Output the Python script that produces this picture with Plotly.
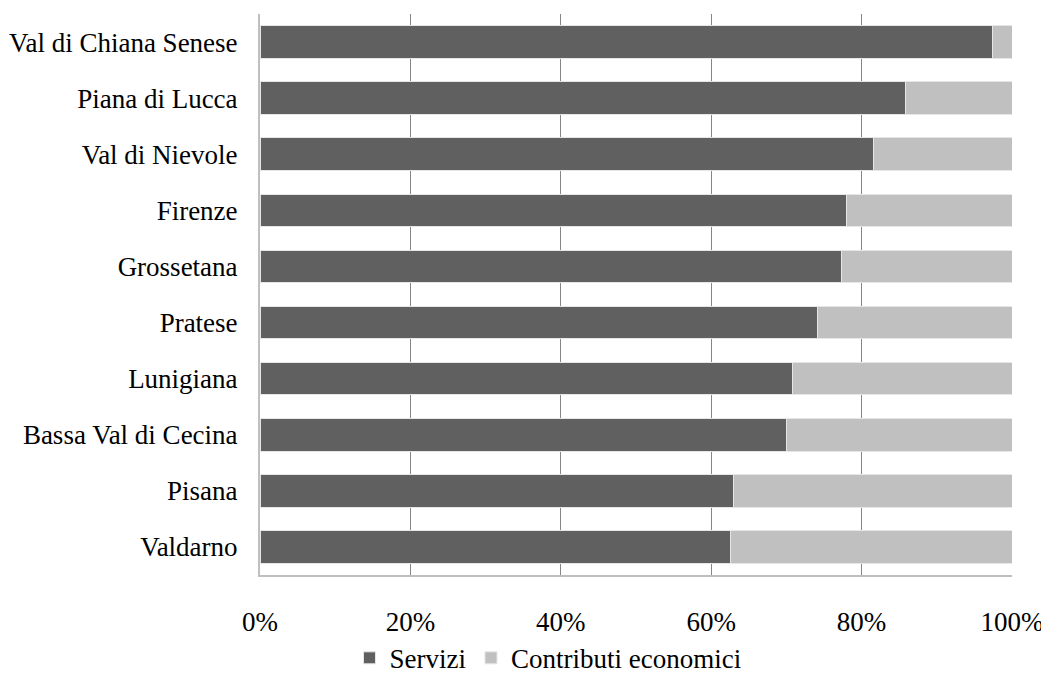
import plotly.graph_objects as go

categories = ["Val di Chiana Senese", "Piana di Lucca", "Val di Nievole", "Firenze",
              "Grossetana", "Pratese", "Lunigiana", "Bassa Val di Cecina", "Pisana", "Valdarno"]
servizi = [97.4, 85.9, 81.6, 78.0, 77.3, 74.2, 70.8, 70.0, 63.0, 62.5]
contributi = [2.6, 14.1, 18.4, 22.0, 22.7, 25.8, 29.2, 30.0, 37.0, 37.5]
x_ticks = [0, 20, 40, 60, 80, 100]

FONT = "Liberation Serif"

fig = go.Figure()
fig.add_trace(go.Bar(y=categories, x=servizi, orientation="h", name="Servizi",
                     marker=dict(color="#606060", line=dict(color="#E6E6E6", width=1))))
fig.add_trace(go.Bar(y=categories, x=contributi, orientation="h", name="Contributi economici",
                     marker=dict(color="#C0C0C0", line=dict(color="#E6E6E6", width=1))))

# The page has an 8px body margin, so the figure is sized to fit inside it.
fig.update_layout(
    barmode="stack",
    bargap=0.42,
    width=1041, height=669,
    margin=dict(l=252, r=37, t=6, b=102, autoexpand=False),
    plot_bgcolor="white", paper_bgcolor="white",
    font=dict(family=FONT, size=27, color="black"),
    legend=dict(orientation="h", xref="container", yref="container",
                x=(548 - 8) / 1041, xanchor="center", y=0.028, yanchor="middle",
                bgcolor="rgba(0,0,0,0)",
                traceorder="normal", font=dict(size=27), itemwidth=30, tracegroupgap=0),
    xaxis=dict(range=[0, 100], tickvals=x_ticks, ticktext=[f"{v}%" for v in x_ticks],
               showgrid=True, gridcolor="#868686", gridwidth=1,
               showline=True, linecolor="#BFBFBF", linewidth=2,
               zeroline=False, ticks="", ticklabelstandoff=22, automargin=False),
    yaxis=dict(autorange="reversed", showline=True, linecolor="#BFBFBF", linewidth=2,
               ticks="", ticklabelstandoff=15, showgrid=False, automargin=False),
)

fig.write_html("out.html")
